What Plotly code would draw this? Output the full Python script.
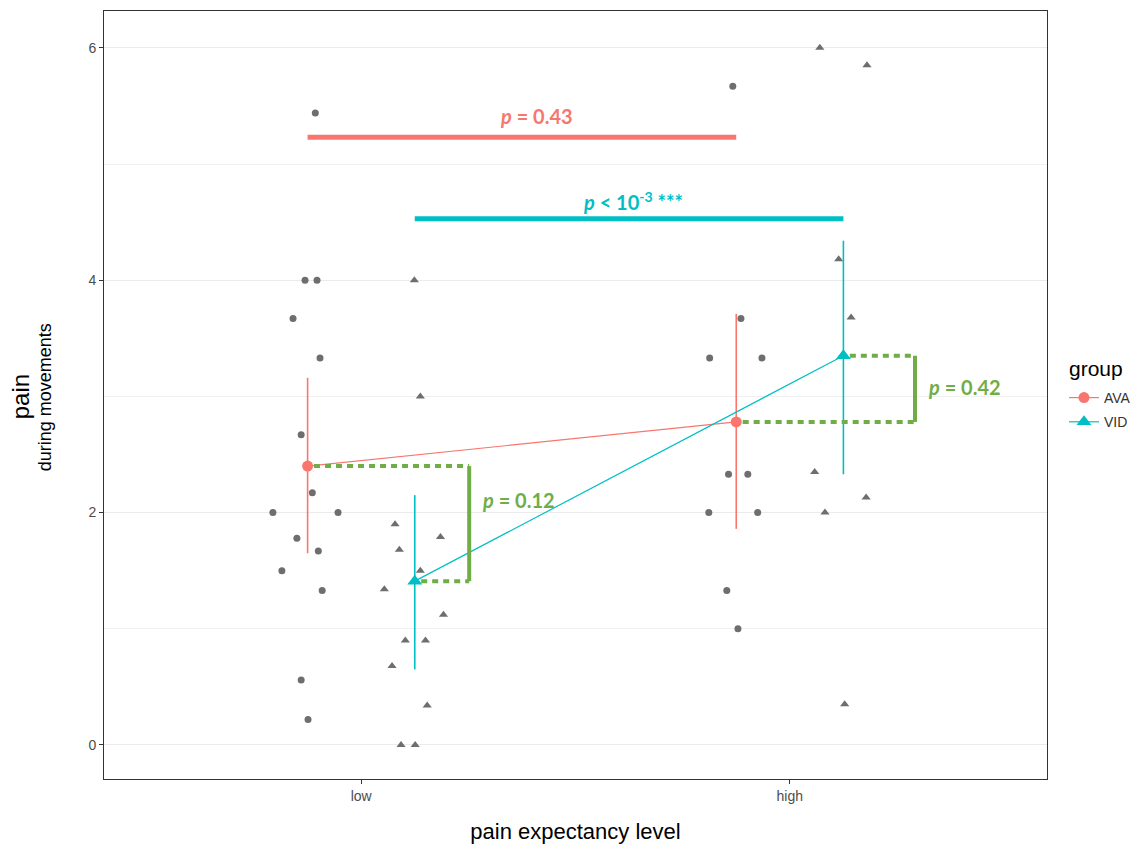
import plotly.graph_objects as go

# ---------------- data ----------------
levels = ["low", "high"]
groups = ["AVA", "VID"]

# individual observations (value, horizontal jitter relative to category)
ava_low_vals = [5.44, 4.0, 4.0, 3.67, 3.33, 2.67, 2.17, 2.0, 2.0, 1.78, 1.67, 1.5, 1.33, 0.56, 0.22]
ava_low_jit = [-0.107, -0.131, -0.103, -0.159, -0.096, -0.140, -0.114, -0.206, -0.054, -0.150, -0.100, -0.185, -0.091, -0.140, -0.124]
vid_low_vals = [4.0, 3.0, 1.9, 1.79, 1.68, 1.5, 1.34, 1.12, 0.9, 0.9, 0.68, 0.34, 0.0, 0.0]
vid_low_jit = [0.124, 0.138, 0.079, 0.185, 0.089, 0.138, 0.054, 0.192, 0.103, 0.150, 0.072, 0.154, 0.093, 0.126]
ava_high_vals = [5.67, 3.67, 3.33, 3.33, 2.33, 2.33, 2.0, 2.0, 1.33, 1.0]
ava_high_jit = [-0.133, -0.114, -0.187, -0.065, -0.143, -0.098, -0.189, -0.075, -0.147, -0.121]
vid_high_vals = [6.0, 5.85, 4.18, 3.68, 2.35, 2.13, 2.0, 0.35]
vid_high_jit = [0.070, 0.180, 0.114, 0.143, 0.058, 0.178, 0.082, 0.128]

# group means and interval limits (low, high)
ava_mean = [2.40, 2.78]
ava_upper = [3.16, 3.71]
ava_lower = [1.65, 1.86]
vid_mean = [1.41, 3.35]
vid_upper = [2.15, 4.34]
vid_lower = [0.65, 2.33]

dodge = 0.125
cat_pos = [1, 2]

# annotations
p_ava = "p = 0.43"
p_vid = "p &lt; 10<sup>-3</sup> ***"
p_low = "p = 0.12"
p_high = "p = 0.42"
sig_y_ava = 5.23
sig_y_vid = 4.53

RED = "#F8766D"
CYAN = "#00BFC4"
GREEN = "#70AD47"
GRAY = "#6E6E6E"

fig = go.Figure()

# raw points
def add_pts(vals, jit, base, symbol, size):
    fig.add_trace(go.Scatter(
        x=[base + j for j in jit], y=vals, mode="markers",
        marker=dict(symbol=symbol, size=size, color=GRAY),
        showlegend=False, hoverinfo="skip"))

add_pts(ava_low_vals, ava_low_jit, cat_pos[0], "circle", 7)
add_pts(ava_high_vals, ava_high_jit, cat_pos[1], "circle", 7)
add_pts(vid_low_vals, vid_low_jit, cat_pos[0], "triangle-up", 8)
add_pts(vid_high_vals, vid_high_jit, cat_pos[1], "triangle-up", 8)

# means with intervals
for name, mean, up, lo, col, sym, sz, off in [
        ("AVA", ava_mean, ava_upper, ava_lower, RED, "circle", 11, -dodge),
        ("VID", vid_mean, vid_upper, vid_lower, CYAN, "triangle-up", 13, dodge)]:
    fig.add_trace(go.Scatter(
        x=[c + off for c in cat_pos], y=mean, mode="lines+markers", name=name,
        legendgroup=name,
        line=dict(color=col, width=1.2),
        marker=dict(symbol=sym, size=sz, color=col),
        error_y=dict(type="data", symmetric=False,
                     array=[u - m for u, m in zip(up, mean)],
                     arrayminus=[m - l for m, l in zip(mean, lo)],
                     color=col, thickness=1.6, width=0)))

# significance bars between levels
fig.add_trace(go.Scatter(x=[cat_pos[0] - dodge, cat_pos[1] - dodge], y=[sig_y_ava, sig_y_ava],
                         mode="lines", line=dict(color=RED, width=5), showlegend=False, hoverinfo="skip"))
fig.add_trace(go.Scatter(x=[cat_pos[0] + dodge, cat_pos[1] + dodge], y=[sig_y_vid, sig_y_vid],
                         mode="lines", line=dict(color=CYAN, width=5), showlegend=False, hoverinfo="skip"))

# green brackets between groups
brk_low_x = 1.252
brk_high_x = 2.292
def bracket(bx, x_top_start, y_top, x_bot_start, y_bot):
    fig.add_trace(go.Scatter(x=[x_top_start, bx], y=[y_top, y_top], mode="lines",
                             line=dict(color=GREEN, width=4, dash="6px,5px"),
                             showlegend=False, hoverinfo="skip"))
    fig.add_trace(go.Scatter(x=[x_bot_start, bx], y=[y_bot, y_bot], mode="lines",
                             line=dict(color=GREEN, width=4, dash="6px,5px"),
                             showlegend=False, hoverinfo="skip"))
    fig.add_trace(go.Scatter(x=[bx, bx], y=[y_top, y_bot], mode="lines",
                             line=dict(color=GREEN, width=4),
                             showlegend=False, hoverinfo="skip"))

bracket(brk_low_x, cat_pos[0] - dodge + 0.015, ava_mean[0], cat_pos[0] + dodge + 0.015, vid_mean[0])
bracket(brk_high_x, cat_pos[1] + dodge + 0.015, vid_mean[1], cat_pos[1] - dodge + 0.015, ava_mean[1])

afont = "Lato, 'Open Sans', sans-serif"
def lab(x, y, txt, col, anchor="center"):
    fig.add_annotation(x=x, y=y, text="<b><i>p</i>" + txt[1:] + "</b>", showarrow=False,
                       font=dict(family=afont, size=20, color=col), xanchor=anchor, yanchor="middle")

lab(1.41, sig_y_ava + 0.18, p_ava, RED)
lab(1.635, sig_y_vid + 0.15, p_vid, CYAN)
lab(brk_low_x + 0.025, (ava_mean[0] + vid_mean[0]) / 2 + 0.2, p_low, GREEN, "left")
lab(brk_high_x + 0.025, (vid_mean[1] + ava_mean[1]) / 2 + 0.02, p_high, GREEN, "left")

# y-axis title (two lines, rotated)
fig.add_annotation(xref="paper", yref="paper", x=0, y=0.497, xshift=-84, text="pain",
                   textangle=-90, showarrow=False, xanchor="center", yanchor="middle",
                   font=dict(size=24, color="black"))
fig.add_annotation(xref="paper", yref="paper", x=0, y=0.497, xshift=-59, text="during movements",
                   textangle=-90, showarrow=False, xanchor="center", yanchor="middle",
                   font=dict(size=18, color="black"))

# legend title
fig.add_annotation(xref="paper", yref="paper", x=1.0, xshift=20, y=1 - (368 - 10) / 768,
                   text="group", showarrow=False, xanchor="left", yanchor="middle",
                   font=dict(size=21, color="black"))

fig.update_layout(
    width=1146, height=848,
    margin=dict(l=96, r=107, t=3, b=77),
    plot_bgcolor="white", paper_bgcolor="white",
    font=dict(family="Liberation Sans, Arial, sans-serif"),
    legend=dict(font=dict(size=14, color="#333333"),
                x=1.018, xanchor="left", y=1 - (381 - 10) / 768, yanchor="top",
                tracegroupgap=3),
    xaxis=dict(range=[0.4, 2.6], tickvals=cat_pos, ticktext=levels,
               showgrid=False, zeroline=False,
               showline=True, linecolor="#333333", linewidth=1, mirror=True,
               ticks="outside", ticklen=4, tickcolor="#333333",
               tickfont=dict(size=14, color="#4D4D4D"),
               title=dict(text="pain expectancy level", font=dict(size=22, color="black"), standoff=20)),
    yaxis=dict(range=[-0.293, 6.317], tickvals=[0, 2, 4, 6],
               showgrid=True, gridcolor="#EBEBEB", gridwidth=1,
               minor=dict(tickvals=[1, 3, 5], showgrid=True, gridcolor="#F0F0F0", gridwidth=1),
               zeroline=False,
               showline=True, linecolor="#333333", linewidth=1, mirror=True,
               ticks="outside", ticklen=4, tickcolor="#333333",
               tickfont=dict(size=14, color="#4D4D4D")),
)

fig.write_html("out.html")
